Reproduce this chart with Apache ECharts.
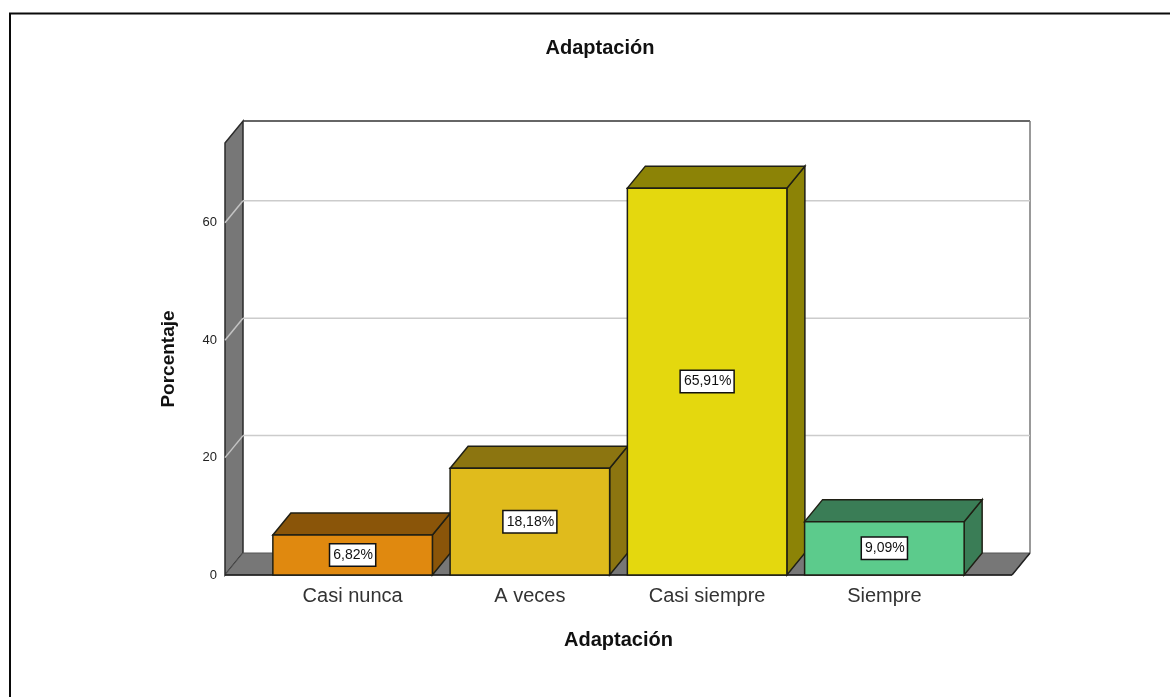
<!DOCTYPE html>
<html>
<head>
<meta charset="utf-8">
<style>html,body{margin:0;padding:0;background:#fff}#chart{width:1170px;height:697px}</style>
<script src="https://cdn.jsdelivr.net/npm/echarts@6/dist/echarts.min.js"></script>
</head>
<body>
<div id="chart"></div>
<script>
// Survey result: share of answers per category
const categories = ['Casi nunca', 'A veces', 'Casi siempre', 'Siempre'];
const percentages = [6.82, 18.18, 65.91, 9.09];
const faceColors = ['#E0890F', '#E0BB1C', '#E4D80E', '#5CCB8C'];
const shadeColors = ['#8A5509', '#8C7510', '#8C8306', '#3A7D56'];
const gridValues = [20, 40, 60];

// Oblique projection of the box depth, in pixels
const DEPTH_X = 18;
const DEPTH_Y = 22;
// Distance from the outer bands to the front edge of the floor
const SIDE_PAD = 39;
const EDGE = '#1f1f14';

const poly = (points, fill, stroke, lineWidth) => ({
  type: 'polygon',
  shape: { points },
  style: { fill, stroke: stroke || 'none', lineWidth: lineWidth || 0 }
});
const line = (x1, y1, x2, y2, stroke, lineWidth) => ({
  type: 'line',
  shape: { x1, y1, x2, y2 },
  style: { stroke, lineWidth, fill: 'none' }
});

// Side wall, floor and back wall of the plot box
function renderBox(params) {
  const c = params.coordSys;
  const l = c.x - SIDE_PAD, r = c.x + c.width + SIDE_PAD;
  const t = c.y, b = c.y + c.height;
  const dx = DEPTH_X, dy = DEPTH_Y;
  return {
    type: 'group',
    children: [
      poly([[l + dx, t - dy], [r + dx, t - dy], [r + dx, b - dy], [l + dx, b - dy]], '#fff'),
      poly([[l, t], [l + dx, t - dy], [l + dx, b - dy], [l, b]], '#777777', '#2b2b2b', 1.5),
      poly([[l, b], [l + dx, b - dy], [r + dx, b - dy], [r, b]], '#777777', '#555555', 1),
      line(l + dx, t - dy, r + dx, t - dy, '#333333', 1.5),
      line(r + dx, t - dy, r + dx, b - dy, '#777777', 1.5),
      line(r, b, r + dx, b - dy, '#222222', 1.5),
      line(l, b, r, b, '#1a1a1a', 1.5)
    ]
  };
}

// Grid line across the back wall, folding down onto the side wall
function renderGridLine(params, api) {
  const c = params.coordSys;
  const y = api.coord([0, api.value(0)])[1];
  const l = c.x - SIDE_PAD, r = c.x + c.width + SIDE_PAD;
  return {
    type: 'group',
    children: [
      line(l, y, l + DEPTH_X, y - DEPTH_Y, '#c4c4c4', 1.5),
      line(l + DEPTH_X, y - DEPTH_Y, r + DEPTH_X, y - DEPTH_Y, '#cccccc', 1.5)
    ]
  };
}

// Extruded bar with a boxed percentage label on the front face
function renderBar(params, api) {
  const i = api.value(0), v = api.value(1);
  const top = api.coord([i, v]);
  const base = api.coord([i, 0]);
  const w = api.size([1, 0])[0] * 0.9;
  const x0 = top[0] - w / 2, x1 = top[0] + w / 2;
  const y0 = top[1], y1 = base[1];
  const dx = DEPTH_X, dy = DEPTH_Y;
  const shade = shadeColors[i];
  return {
    type: 'group',
    children: [
      poly([[x1, y0], [x1 + dx, y0 - dy], [x1 + dx, y1 - dy], [x1, y1]], shade, EDGE, 1.5),
      poly([[x0, y0], [x0 + dx, y0 - dy], [x1 + dx, y0 - dy], [x1, y0]], shade, EDGE, 1.5),
      poly([[x0, y0], [x1, y0], [x1, y1], [x0, y1]], faceColors[i], EDGE, 1.5),
      {
        type: 'text',
        x: top[0],
        y: (y0 + y1) / 2,
        style: {
          text: v.toFixed(2).replace('.', ',') + '%',
          font: '14px "Liberation Sans", Arial, sans-serif',
          fill: '#111',
          align: 'center',
          verticalAlign: 'middle',
          backgroundColor: '#fff',
          borderColor: '#111',
          borderWidth: 1.5,
          padding: [4, 2, 3, 3]
        }
      }
    ]
  };
}

const chart = echarts.init(document.getElementById('chart'), null, { renderer: 'canvas' });
chart.setOption({
  animation: false,
  backgroundColor: '#fff',
  title: {
    text: 'Adaptación',
    left: 595,
    top: 33,
    textAlign: 'center',
    textStyle: { fontFamily: 'Liberation Sans', fontSize: 20, fontWeight: 'bold', color: '#111' }
  },
  graphic: [{
    type: 'polyline',
    shape: { points: [[10, 697], [10, 13.5], [1170, 13.5]] },
    style: { stroke: '#0a0a0a', lineWidth: 2, fill: 'none' }
  }],
  grid: { left: 264, top: 143, width: 709, height: 432 },
  xAxis: {
    type: 'category',
    data: categories,
    axisLine: { show: false },
    axisTick: { show: false },
    axisLabel: { margin: 11, fontFamily: 'Liberation Sans', fontSize: 20, color: '#333' },
    name: 'Adaptación',
    nameLocation: 'middle',
    nameGap: 55,
    nameTextStyle: { fontFamily: 'Liberation Sans', fontSize: 20, fontWeight: 'bold', color: '#111' }
  },
  yAxis: {
    type: 'value',
    min: 0,
    max: 73.6,
    interval: 20,
    offset: SIDE_PAD,
    axisLine: { show: false },
    axisTick: { show: false },
    splitLine: { show: false },
    axisLabel: { showMaxLabel: false, margin: 8, fontFamily: 'Liberation Sans', fontSize: 13, color: '#222' },
    name: 'Porcentaje',
    nameLocation: 'middle',
    nameGap: 47,
    nameTextStyle: { fontFamily: 'Liberation Sans', fontSize: 19, fontWeight: 'bold', color: '#111', padding: [0, 0, 0, 0] }
  },
  series: [
    { type: 'custom', renderItem: renderBox, data: [0], silent: true, z: 1 },
    { type: 'custom', renderItem: renderGridLine, data: gridValues.map(v => [v]), encode: { y: 0 }, silent: true, z: 2 },
    { type: 'custom', renderItem: renderBar, data: percentages.map((v, i) => [i, v]), encode: { x: 0, y: 1 }, z: 3 }
  ]
});
</script>
</body>
</html>
